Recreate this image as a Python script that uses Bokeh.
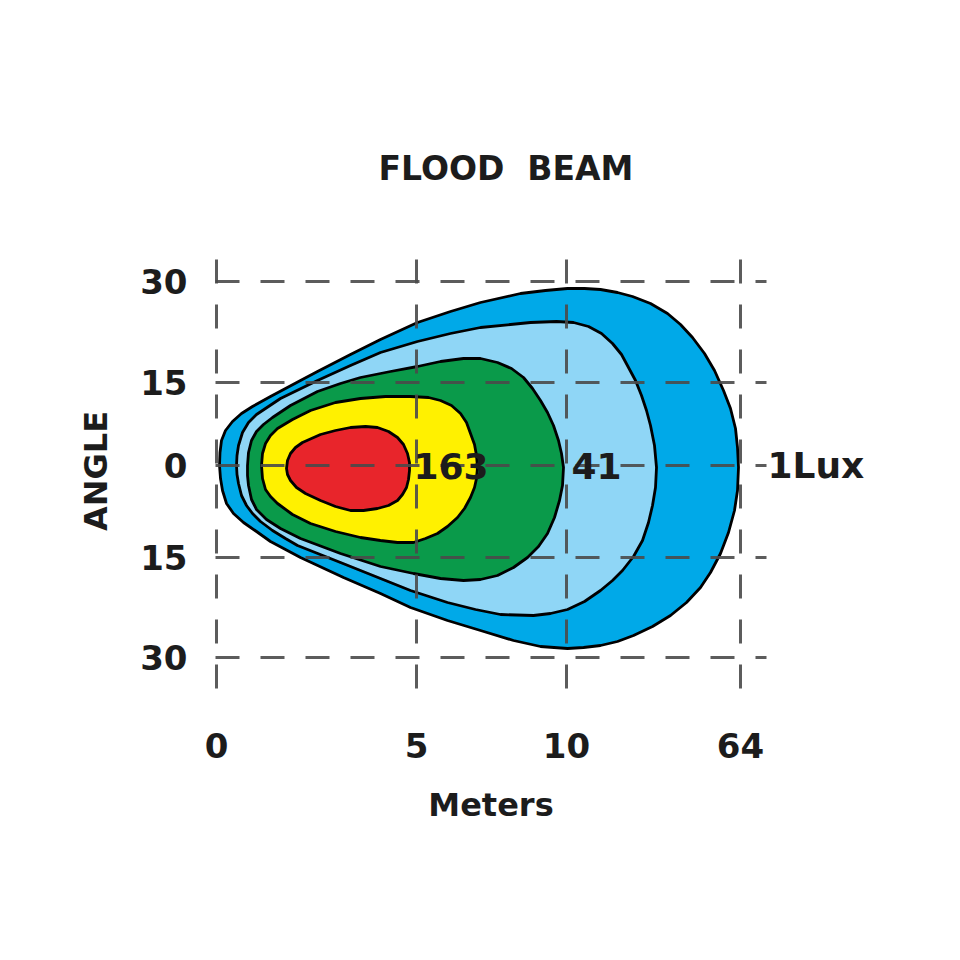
from bokeh.plotting import figure
from bokeh.models import Range1d, FixedTicker, Label, Title, LinearAxis
from bokeh.embed import file_html
from bokeh.resources import INLINE

# ---- axis ticks (chart position units) ----
x_tick_pos = [0, 200, 350, 524]
x_tick_labels = ["0", "5", "10", "64"]
y_tick_pos = [184, 83, 0, -92, -192]
y_tick_labels = ["30", "15", "0", "15", "30"]

# ---- isolux contours (distance position, angle position) ----
blue_x = [3, 3.5, 5, 9, 16, 25, 36, 54, 84, 101, 134, 164, 201, 234, 264, 304, 329, 351, 368, 384, 401, 416, 434, 451,
          464, 476, 488, 498, 507, 514, 519, 521, 522, 521, 518, 512, 504, 494, 484, 470, 454, 436, 417, 401, 384, 367,
          351, 324, 297, 264, 231, 194, 164, 127, 84, 54, 40, 27, 17, 10, 6, 4]
blue_y = [0, 13, 25, 35, 44, 52, 59, 69, 85, 94, 111, 126, 143, 154, 163, 172, 175, 177, 177, 176, 173, 169, 162, 152,
          141, 128, 112, 95, 75, 57, 37, 18, -2, -25, -45, -67, -88, -107, -122, -137, -150, -161, -170, -176, -180, -182,
          -183, -181, -175, -165, -155, -142, -128, -112, -92, -76, -66, -57, -48, -38, -25, -13]

light_x = [20, 20.5, 22, 26, 32, 40, 52, 64, 101, 134, 164, 201, 234, 264, 314, 340, 357, 372, 385, 396, 405, 412, 419, 425,
           430, 434, 438, 440, 439, 436, 432, 426, 417, 406, 396, 384, 368, 351, 334, 317, 284, 259, 231, 194, 164, 124,
           81, 69, 56, 44, 36, 30, 25, 22, 20.5]
light_y = [0, 10, 20, 33, 43, 51, 59, 67, 85, 100, 113, 124, 132, 138, 143, 144, 143, 139, 132, 122, 111, 98, 85, 70,
           55, 40, 20, -2, -22, -40, -57, -75, -91, -105, -115, -125, -136, -144, -148, -150, -149, -144, -137, -125, -113, -97,
           -80, -73, -65, -56, -48, -40, -30, -18, -9]

green_x = [31, 32, 35, 40, 47, 56, 74, 101, 124, 144, 174, 201, 224, 247, 264, 281, 295, 307, 316, 324, 331, 337, 342,
           345, 347, 346, 343, 338, 331, 322, 311, 297, 281, 264, 247, 224, 197, 164, 124, 84, 64, 50, 40, 35, 32, 31]
green_y = [0, 13, 25, 34, 41, 48, 60, 74, 82, 88, 94, 99, 104, 107, 107, 103, 97, 88, 77, 65, 53, 40, 25,
           12, -2, -20, -35, -52, -68, -81, -92, -102, -110, -114, -115, -113, -108, -101, -88, -73, -63, -54, -44, -34, -20, -10]

yellow_x = [45, 46, 49, 54, 61, 76, 94, 119, 144, 169, 194, 212, 224, 235, 244, 250, 254, 258, 260, 261, 260, 258, 254,
            248, 241, 231, 221, 209, 197, 181, 164, 144, 119, 94, 76, 61, 54, 49, 46]
yellow_y = [0, 12, 22, 30, 37, 46, 55, 63, 67, 69, 69, 68, 65, 60, 52, 43, 32, 21, 10, -2, -13, -22, -32,
            -43, -52, -61, -68, -73, -77, -77, -75, -72, -66, -58, -49, -38, -31, -24, -13]

red_x = [70, 71, 74, 79, 86, 104, 119, 134, 149, 161, 172, 181, 187, 191, 193, 193, 192, 190, 186, 181, 172, 161, 147,
         134, 119, 104, 89, 80, 74, 71]
red_y = [-3, 5, 12, 18, 23, 31, 35, 38, 39, 38, 34, 28, 21, 12, 3, -5, -14, -22, -29, -35, -40, -43, -45,
         -45, -41, -35, -28, -22, -15, -9]

zone_colors = ["#00a9e8", "#8fd6f6", "#0a9a4a", "#fff100", "#e8252b"]

lux_labels = ["163", "41", "1Lux"]
lux_label_x = [197, 355]

FONT = "DejaVu Sans"
INK = "#1c1c1c"

p = figure(frame_width=551, frame_height=435,
           min_border_left=215, min_border_right=186,
           min_border_top=253, min_border_bottom=264,
           x_range=Range1d(-1, 550), y_range=Range1d(-223, 212),
           output_backend="svg", toolbar_location=None,
           background_fill_color="white", border_fill_color="white")
p.outline_line_color = None

p.title = Title(text="FLOOD \u00a0BEAM", align="left", offset=163, standoff=131,
                text_font_size="33px", text_font=FONT, text_font_style="bold",
                text_color=INK)

xs = [blue_x, light_x, green_x, yellow_x, red_x]
ys = [blue_y, light_y, green_y, yellow_y, red_y]
for cx, cy, col in zip(xs, ys, zone_colors):
    p.patch(cx, cy, fill_color=col, line_color="black", line_width=2.8, line_join="round")

# grid
for g, ticks in ((p.xgrid, x_tick_pos), (p.ygrid, y_tick_pos)):
    g.ticker = FixedTicker(ticks=ticks)
    g.grid_line_color = "#4a4a4a"
    g.grid_line_width = 3
    g.grid_line_dash = "24 21"
    g.grid_line_alpha = 0.9
    g.level = "guide"

# outer-contour label as a right-hand axis label at 0°
rax = LinearAxis(ticker=FixedTicker(ticks=[0]), major_label_overrides={0: lux_labels[2]})
p.add_layout(rax, "right")

# axes
p.xaxis.ticker = FixedTicker(ticks=x_tick_pos)
p.xaxis.major_label_overrides = dict(zip(x_tick_pos, x_tick_labels))
p.yaxis[0].ticker = FixedTicker(ticks=y_tick_pos)
p.yaxis[0].major_label_overrides = dict(zip(y_tick_pos, y_tick_labels))
p.xaxis.axis_label = "Meters"
p.yaxis[0].axis_label = "ANGLE"
for ax in (p.xaxis[0], p.yaxis[0], rax):
    ax.axis_line_color = None
    ax.major_tick_line_color = None
    ax.minor_tick_line_color = None
    ax.major_label_text_font = FONT
    ax.major_label_text_font_style = "bold"
    ax.major_label_text_font_size = "34px"
    ax.major_label_text_color = INK
    ax.axis_label_text_font = FONT
    ax.axis_label_text_font_style = "bold"
    ax.axis_label_text_font_size = "32px"
    ax.axis_label_text_color = INK
rax.major_label_text_font_size = "36px"
rax.major_tick_out = 0
rax.major_label_standoff = 1
p.xaxis.major_label_standoff = 38
p.xaxis.axis_label_standoff = 25
p.yaxis[0].major_label_standoff = 22
p.yaxis[0].axis_label_standoff = 22

for txt, lx in zip(lux_labels[:2], lux_label_x):
    p.add_layout(Label(x=lx, y=0, text=txt, text_baseline="middle", text_align="left",
                       text_font=FONT, text_font_style="bold", text_font_size="36px",
                       text_color=INK))

open("out.html", "w").write(file_html(p, INLINE))
